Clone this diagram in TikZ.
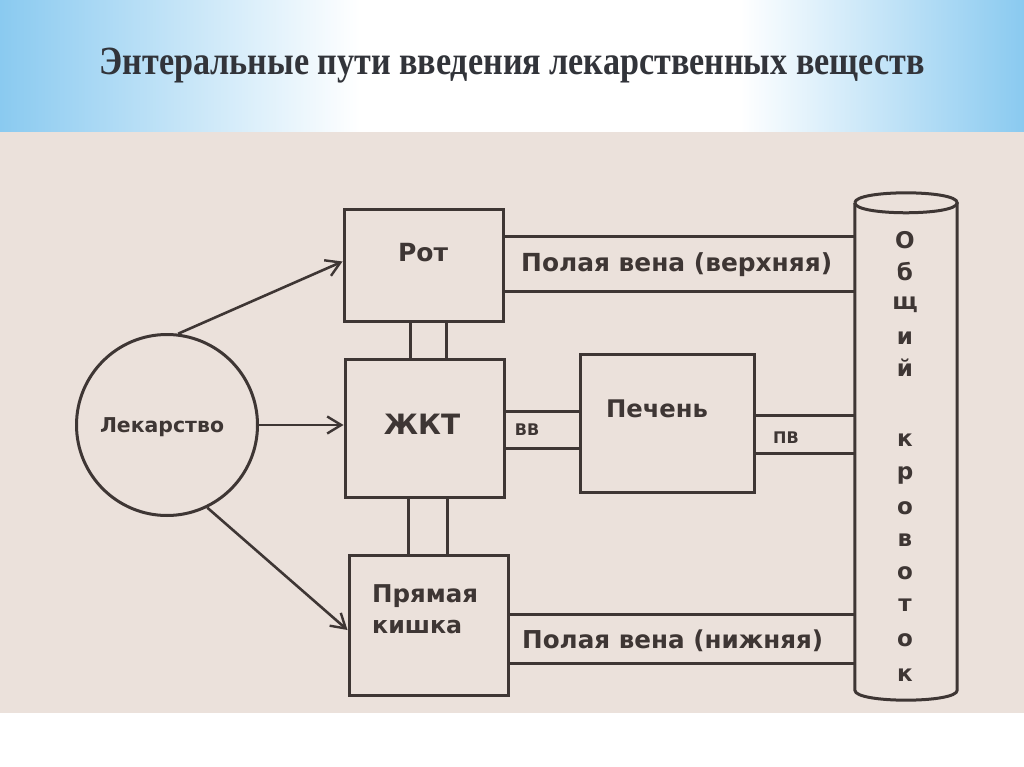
\documentclass[tikz,border=0pt]{standalone}
\usepackage{fontspec}
\setmainfont{DejaVu Sans}
\newfontfamily\titlefont{Liberation Serif}
\usetikzlibrary{arrows.meta}
\definecolor{ink}{RGB}{62,54,52}
\definecolor{paper}{RGB}{235,225,219}
\definecolor{sky}{RGB}{138,202,240}
\definecolor{titlec}{RGB}{50,52,58}
\newcommand{\fitw}[2]{\resizebox{#1}{!}{#2}}
\newcommand{\titletext}{Энтеральные пути введения лекарственных веществ}
\begin{document}
\begin{tikzpicture}[x=1pt,y=-1pt,
  ln/.style={draw=ink, line width=3pt},
  boxn/.style={ln, inner sep=0pt},
  lbl/.style={text=ink, inner sep=0pt, font=\bfseries},
  arr/.style={ln, line width=2.6pt, -{Straight Barb[length=14pt,width=17pt,line width=2.4pt]}},
  letter/.style={text=ink, inner sep=0pt, font=\bfseries\fontsize{23}{23}\selectfont}]
\useasboundingbox (0,0) rectangle (1024,767);
\fill[white] (0,0) rectangle (1024,767);
% top band
\shade[left color=sky, right color=white] (0,0) rectangle (360,132);
\fill[white] (359,0) rectangle (741,132);
\shade[left color=white, right color=sky] (740,0) rectangle (1024,132);
% paper
\fill[paper] (0,132) rectangle (1024,713);
% title
\node[anchor=base, text=titlec, inner sep=0pt,
      font=\titlefont\bfseries\fontsize{40}{40}\selectfont] (title) at (512,75)
  {\resizebox{825pt}{\height}{\titletext}};
% drug
\node[ln, circle, minimum size=181pt, inner sep=0pt] (drug) at (167,425) {};
\node[lbl, font=\bfseries\fontsize{19}{19}\selectfont, anchor=base] (drugt) at (162,432) {\fitw{124pt}{Лекарство}};
% boxes
\node[boxn, minimum width=159pt, minimum height=111pt] (rot) at (423.5,265.5) {};
\node[boxn, minimum width=159pt, minimum height=138pt] (zkt) at (424.5,428) {};
\node[boxn, minimum width=174pt, minimum height=138pt] (pech) at (667,423) {};
\node[boxn, minimum width=159pt, minimum height=140pt] (pk) at (428.5,625) {};
\node[lbl, font=\bfseries\fontsize{25}{25}\selectfont, anchor=base] (rott) at (423,261) {Рот};
\node[lbl, font=\bfseries\fontsize{28}{28}\selectfont, anchor=base] (zktt) at (422,434) {ЖКТ};
\node[lbl, font=\bfseries\fontsize{22}{22}\selectfont, anchor=base] (pecht) at (657,417) {\fitw{102pt}{Печень}};
\node[lbl, font=\bfseries\fontsize{22}{22}\selectfont, anchor=base west] (pkt1) at (372,602) {\fitw{106pt}{Прямая}};
\node[lbl, font=\bfseries\fontsize{22}{22}\selectfont, anchor=base west] (pkt2) at (372,633) {\fitw{90pt}{кишка}};
% cylinder
\node[inner sep=0pt, minimum width=102pt, minimum height=487pt] (cyl) at (906,446.5) {};
\fill[paper] (cyl.north west) -- (cyl.south west)
  .. controls ([yshift=-13.3pt]cyl.south west) and ([yshift=-13.3pt]cyl.south east) .. (cyl.south east)
  -- (cyl.north east) -- cycle;
\draw[ln] (cyl.north west) -- (cyl.south west)
  .. controls ([yshift=-13.3pt]cyl.south west) and ([yshift=-13.3pt]cyl.south east) .. (cyl.south east)
  -- (cyl.north east);
\draw[ln] (cyl.north west)
  .. controls ([yshift=13.3pt]cyl.north west) and ([yshift=13.3pt]cyl.north east) .. (cyl.north east)
  .. controls ([yshift=-13.3pt]cyl.north east) and ([yshift=-13.3pt]cyl.north west) .. (cyl.north west);
\foreach \ch/\yy [count=\i] in {О/240,б/272,щ/305,и/338,й/368,к/440,р/475,о/508,в/540,о/573,т/605,о/640,к/675}
  \node[letter] (l\i) at (905,\yy) {\ch};
% vertical links
\draw[ln] ([xshift=-13.5pt]rot.south) -- ([xshift=-13.5pt]rot.south |- zkt.north);
\draw[ln] ([xshift=22.5pt]rot.south) -- ([xshift=22.5pt]rot.south |- zkt.north);
\draw[ln] ([xshift=-16.5pt]zkt.south) -- ([xshift=-16.5pt]zkt.south |- pk.north);
\draw[ln] ([xshift=22.5pt]zkt.south) -- ([xshift=22.5pt]zkt.south |- pk.north);
% channels
\draw[ln] ([yshift=29.5pt]rot.east) -- ([yshift=29.5pt]rot.east -| cyl.west);
\draw[ln] ([yshift=-25.5pt]rot.east) -- ([yshift=-25.5pt]rot.east -| cyl.west);
\draw[ln] ([yshift=17pt]zkt.east) -- ([yshift=17pt]zkt.east -| pech.west);
\draw[ln] ([yshift=-20pt]zkt.east) -- ([yshift=-20pt]zkt.east -| pech.west);
\draw[ln] ([yshift=8pt]pech.east) -- ([yshift=8pt]pech.east -| cyl.west);
\draw[ln] ([yshift=-30pt]pech.east) -- ([yshift=-30pt]pech.east -| cyl.west);
\draw[ln] ([yshift=11pt]pk.east) -- ([yshift=11pt]pk.east -| cyl.west);
\draw[ln] ([yshift=-38pt]pk.east) -- ([yshift=-38pt]pk.east -| cyl.west);
\node[lbl, font=\bfseries\fontsize{22}{22}\selectfont, anchor=base west] (vup) at (521,271) {\fitw{311pt}{Полая вена (верхняя)}};
\node[lbl, font=\bfseries\fontsize{22}{22}\selectfont, anchor=base west] (vlow) at (522,648) {\fitw{301pt}{Полая вена (нижняя)}};
\node[lbl, font=\bfseries\fontsize{16}{16}\selectfont] (vv) at (527,430) {ВВ};
\node[lbl, font=\bfseries\fontsize{16}{16}\selectfont] (pv) at (786,438) {ПВ};
% arrows
\draw[arr] (drug.83) -- ([yshift=4pt]rot.west);
\draw[arr] (drug.east) -- (zkt.west |- drug.east);
\draw[arr] (drug.-64) -- ([yshift=-5pt]pk.west);
\end{tikzpicture}
\end{document}
